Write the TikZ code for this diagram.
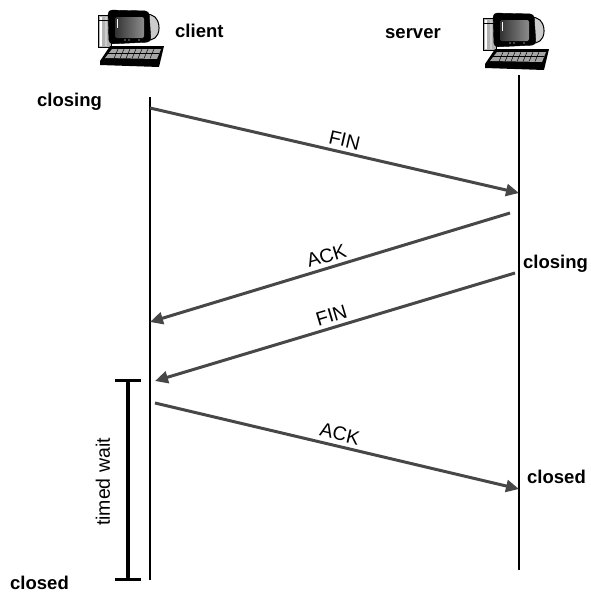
\documentclass[tikz,border=0pt]{standalone}
\usepackage{fontspec}
\setmainfont{Liberation Sans}
\usetikzlibrary{arrows.meta}

% desktop computer, top left corner at (#1,#2)
\def\computer(#1,#2){%
  \begin{scope}[shift={(#1,#2)}]
    % tower
    \draw[fill=black!30, line width=0.6pt] (5,7) rectangle (18,39);
    \fill[white] (6.5,9) rectangle (9,38);
    \fill[white!80!black] (12,9) rectangle (13.5,38);
    \draw[line width=0.6pt] (5,12) -- (18,12);
    % monitor, back of the tube
    \draw[fill=black!20, line width=1pt, rounded corners=5] (50,5) -- (63,8) -- (67,20) -- (63,31) -- (50,33) -- cycle;
    % monitor, front
    \draw[fill=black, rounded corners=4] (15,2) -- (56,3) -- (58,34) -- (16,36) -- cycle;
    \shade[left color=black!80, right color=black!45, rounded corners=2] (22,9) rectangle (51,30);
    \draw[white, line width=1pt] (24,11) -- (24,20);
    \fill[black!45] (32,32) circle (0.8) (36,32) circle (0.8) (46,32) circle (0.8);
    % keyboard
    \fill[black] (7,53) -- (17,38) -- (71,38) -- (66,59) -- (7,57) -- cycle;
    \fill[black!35] (12,50) -- (19,41) -- (68,41) -- (64,51) -- cycle;
    \foreach \k in {25,31,...,61} \draw[black, line width=0.5pt] (\k,41) -- (\k-4,50.5);
    \draw[black, line width=0.5pt] (15,45.5) -- (66,45.5);
  \end{scope}}

\tikzset{
  msg/.style={line width=3pt, color=black!72, -{Triangle[length=13pt,width=12pt]}},
  timeline/.style={line width=1.5pt},
  state/.style={font=\fontsize{18.5}{21}\selectfont\bfseries, inner sep=0pt},
  lbl/.style={font=\fontsize{19.5}{22}\selectfont, inner sep=4pt},
}

\begin{document}
\begin{tikzpicture}[x=1pt, y=-1pt]
    %%%%% START %%%%%
    \useasboundingbox (0,0) rectangle (590,595);

    \computer(93,8)
    \computer(478,11)

    \node[state, anchor=base west] (client) at (175,37) {client};
    \node[state, anchor=base west] (server) at (385,38) {server};

    % timelines
    \coordinate (ctop) at (150,97);
    \coordinate (cbot) at (150,580);
    \coordinate (stop) at (519,75);
    \coordinate (sbot) at (519,570);
    \draw[timeline] (ctop) -- (cbot);
    \draw[timeline] (stop) -- (sbot);

    % message end points
    \coordinate (c1) at (150,108);
    \coordinate (s1) at (519,193);
    \coordinate (s2) at (510,213);
    \coordinate (c2) at (150,322);
    \coordinate (s3) at (515,273);
    \coordinate (c3) at (155,381);
    \coordinate (c4) at (155,403);
    \coordinate (s4) at (519,489);

    \draw[msg] (c1) -- node[lbl, black, pos=0.52, sloped, above] (fin1) {FIN} (s1);
    \draw[msg] (s2) -- node[lbl, black, pos=0.5, sloped, above] (ack1) {ACK} (c2);
    \draw[msg] (s3) -- node[lbl, black, pos=0.5, sloped, above] (fin2) {FIN} (c3);
    \draw[msg] (c4) -- node[lbl, black, pos=0.5, sloped, above] (ack2) {ACK} (s4);

    % states
    \node[state, anchor=base west] (closing1) at (37,106) {closing};
    \node[state, anchor=base west] (closing2) at (523,268) {closing};
    \node[state, anchor=base west] (closed2) at (527,483) {closed};
    \node[state, anchor=base west] (closed1) at (10,589) {closed};

    % timed wait interval
    \coordinate (wtop) at (128,380);
    \coordinate (wbot) at (128,579);
    \draw[line width=3.5pt] (wtop) -- (wbot);
    \draw[line width=3pt] ([xshift=-13pt]wtop) -- ([xshift=13pt]wtop);
    \draw[line width=3pt] ([xshift=-13pt]wbot) -- ([xshift=13pt]wbot);
    \node[lbl, rotate=90] (wait) at (103,482) {timed wait};

    %%%%% END %%%%%
\end{tikzpicture}
\end{document}
